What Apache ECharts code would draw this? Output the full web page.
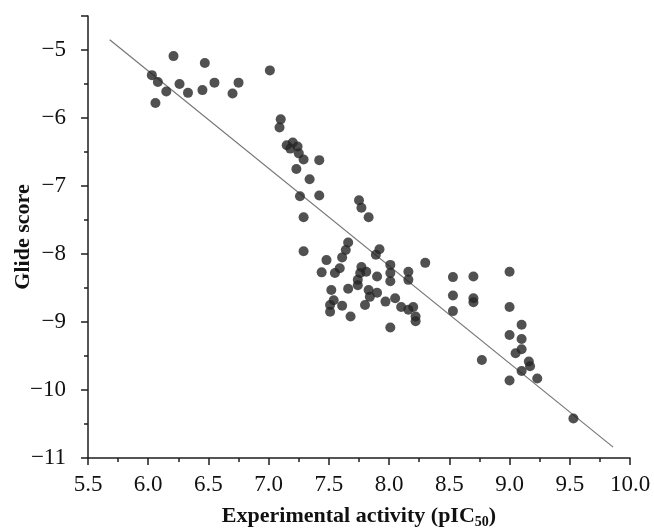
<!DOCTYPE html>
<html>
<head>
<meta charset="utf-8">
<script src="https://cdn.jsdelivr.net/npm/echarts@6/dist/echarts.min.js"></script>
<style>
html,body{margin:0;padding:0;background:#fff;}
#chart{width:654px;height:530px;}
</style>
</head>
<body>
<div id="chart"></div>
<script>
// Experimental activity (pIC50)
const activity = [6.21,6.47,7.01,6.03,6.08,6.26,6.55,6.75,6.15,6.33,6.45,6.70,6.06,7.10,7.09,7.15,7.20,7.18,7.24,7.25,
  7.29,7.42,7.23,7.34,7.26,7.42,7.29,7.75,7.77,7.83,7.29,7.66,7.64,7.61,7.92,7.89,7.48,7.44,7.59,7.55,
  7.77,7.76,7.81,7.90,7.74,7.74,8.01,8.01,8.01,8.16,8.16,8.30,7.52,7.66,7.83,7.90,7.84,7.54,7.51,7.61,
  7.51,7.80,7.97,8.05,8.10,8.16,8.20,8.22,8.22,7.68,8.01,8.53,8.53,8.53,8.70,8.70,8.70,9.00,9.00,9.10,
  9.00,9.10,9.10,9.05,9.16,9.17,9.10,8.77,9.23,9.00,9.53];
// Glide score
const glide = [-5.09,-5.19,-5.30,-5.37,-5.47,-5.50,-5.48,-5.48,-5.61,-5.63,-5.59,-5.64,-5.78,-6.02,-6.14,-6.40,-6.36,-6.45,-6.42,-6.52,
  -6.61,-6.62,-6.75,-6.90,-7.15,-7.14,-7.46,-7.21,-7.32,-7.46,-7.96,-7.83,-7.94,-8.05,-7.93,-8.01,-8.09,-8.27,-8.21,-8.28,
  -8.19,-8.28,-8.26,-8.33,-8.38,-8.46,-8.16,-8.28,-8.40,-8.26,-8.38,-8.13,-8.53,-8.51,-8.53,-8.57,-8.63,-8.68,-8.75,-8.76,
  -8.85,-8.75,-8.70,-8.65,-8.78,-8.82,-8.78,-8.92,-8.99,-8.92,-9.08,-8.34,-8.61,-8.84,-8.33,-8.65,-8.71,-8.26,-8.78,-9.04,
  -9.19,-9.25,-9.40,-9.46,-9.58,-9.65,-9.72,-9.56,-9.83,-9.86,-10.42];
// Regression line end points
const fitX = [5.68, 9.86];
const fitY = [-4.85, -10.84];

const xTicks = {min: 5.5, max: 10.0, step: 0.5};
const yTicks = {min: -11, max: -4.5, step: 1};

const serif = '"Liberation Serif","DejaVu Serif",serif';
const chart = echarts.init(document.getElementById('chart'), null, {renderer: 'canvas'});
const pts = activity.map((x, i) => [x, glide[i]]);
const fitPts = fitX.map((x, i) => [x, fitY[i]]);
const axisColor = '#1e1e1e';
const textColor = '#111';

chart.setOption({
  animation: false,
  backgroundColor: '#fff',
  grid: {left: 88, right: 24, top: 16, bottom: 72, containLabel: false, outerBoundsMode: 'none'},
  xAxis: {
    type: 'value', min: xTicks.min, max: xTicks.max, interval: xTicks.step,
    name: 'Experimental activity (pIC{s|50})',
    nameLocation: 'middle', nameGap: 45, nameMoveOverlap: false,
    nameTextStyle: {fontFamily: serif, fontWeight: 'bold', fontSize: 22, color: textColor,
      rich: {s: {fontFamily: serif, fontWeight: 'bold', fontSize: 14, color: textColor, verticalAlign: 'bottom', padding: [12, 0, 0, 0]}}},
    axisLine: {show: true, onZero: false, lineStyle: {color: axisColor, width: 1.5}},
    axisTick: {show: true, inside: false, length: 7, lineStyle: {color: axisColor, width: 1.5}},
    minorTick: {show: true, splitNumber: 2, length: 4, lineStyle: {color: axisColor, width: 1.5}},
    axisLabel: {fontFamily: serif, fontSize: 23, color: textColor, margin: 15,
      formatter: v => v.toFixed(1)},
    splitLine: {show: false}
  },
  yAxis: {
    type: 'value', min: yTicks.min, max: yTicks.max, interval: yTicks.step,
    name: 'Glide score',
    nameLocation: 'middle', nameGap: 54, nameRotate: 90, nameMoveOverlap: false,
    nameTextStyle: {fontFamily: serif, fontWeight: 'bold', fontSize: 22, color: textColor},
    axisLine: {show: true, onZero: false, lineStyle: {color: axisColor, width: 1.5}},
    axisTick: {show: true, inside: false, length: 7, lineStyle: {color: axisColor, width: 1.5}},
    minorTick: {show: true, splitNumber: 2, length: 4, lineStyle: {color: axisColor, width: 1.5}},
    axisLabel: {fontFamily: serif, fontSize: 23, color: textColor, margin: 22,
      showMaxLabel: false,
      formatter: v => (Number.isInteger(v) ? String(v).replace('-', '\u2212') : '')},
    splitLine: {show: false}
  },
  series: [
    {
      type: 'line', data: fitPts, symbol: 'none', silent: true,
      lineStyle: {color: '#777', width: 1.2}, z: 1
    },
    {
      type: 'scatter', data: pts, symbol: 'circle', symbolSize: 10,
      itemStyle: {color: '#262626'}, z: 2
    }
  ]
});
</script>
</body>
</html>
